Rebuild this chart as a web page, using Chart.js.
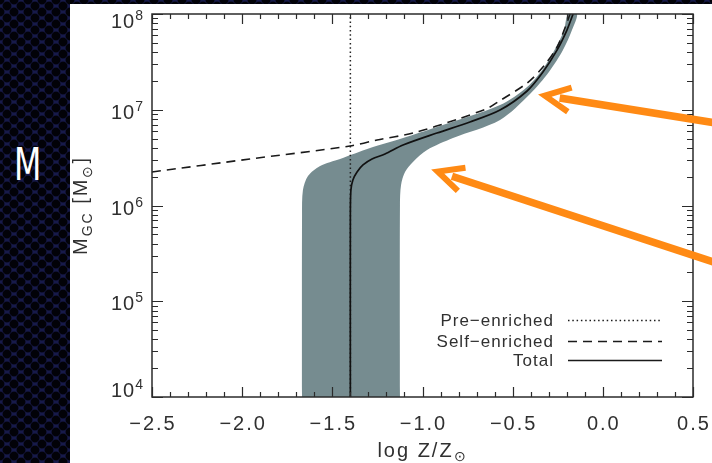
<!DOCTYPE html>
<html><head><meta charset="utf-8">
<script src="https://cdn.jsdelivr.net/npm/chart.js@4.4.0/dist/chart.umd.min.js"></script>
<style>
html,body{margin:0;padding:0;width:712px;height:463px;overflow:hidden;}
body{background-color:#171a4a;
background-image:radial-gradient(circle at 50% 50%, #020208 0, #020208 3.8px, rgba(2,2,8,0) 5px),
radial-gradient(circle at 50% 50%, #020208 0, #020208 3.8px, rgba(2,2,8,0) 5px);
background-size:14px 12px;background-position:0 0,7px 6px;}
#panel{position:absolute;left:70px;top:4px;width:642px;height:459px;background:#fff;}
#mlabel{position:absolute;left:14px;top:143px;color:#fff;font:44px "DejaVu Sans";line-height:44px;transform:scaleX(0.72);transform-origin:left top;}
</style></head>
<body>
<div id="mlabel">M</div>
<div id="panel"><canvas id="c" width="642" height="459"></canvas></div>
<script>
// ---- data ----
const xTickValues = [-2.5, -2.0, -1.5, -1.0, -0.5, 0.0, 0.5];
const yDecadeExponents = [4, 5, 6, 7, 8];

const totalLogZ = [-1.40, -1.40, -1.397, -1.386, -1.363, -1.330, -1.280, -1.208, -1.108, -0.920, -0.737, -0.570, -0.420, -0.332, -0.254, -0.199, -0.165];
const totalMass = [1e4, 7.96e5, 1.45e6, 1.85e6, 2.24e6, 2.65e6, 3.06e6, 3.45e6, 4.28e6, 5.71e6, 7.45e6, 9.93e6, 1.57e7, 2.48e7, 4.2e7, 6.8e7, 1e8];

const selfLogZ = [-2.5, -1.957, -1.402, -1.252, -1.053, -0.803, -0.637, -0.581, -0.420, -0.332, -0.254, -0.210, -0.182];
const selfMass = [2.24e6, 3.06e6, 4.18e6, 4.83e6, 5.71e6, 8.0e6, 1.04e7, 1.21e7, 1.90e7, 2.79e7, 4.52e7, 7.15e7, 1e8];

const preLogZ = [-1.40, -1.40];
const preMass = [1e4, 1e8];

const bandLogZ = [-1.668, -1.668, -1.663, -1.635, -1.568, -1.457, -1.291, -1.108, -0.920, -0.570, -0.420, -0.332, -0.265, -0.215, -0.193,
                  -0.143, -0.171, -0.221, -0.299, -0.404, -0.570, -0.831, -0.975, -1.053, -1.097, -1.119, -1.125, -1.125];
const bandMass = [1e4, 7.96e5, 1.45e6, 2.03e6, 2.59e6, 3.06e6, 3.98e6, 5.07e6, 6.61e6, 1.12e7, 1.73e7, 2.67e7, 4.3e7, 6.8e7, 1e8,
                  1e8, 6.8e7, 4.2e7, 2.48e7, 1.46e7, 7.82e6, 5.07e6, 3.80e6, 2.85e6, 2.24e6, 1.64e6, 1.01e6, 1e4];

const legendLabels = ['Pre\u2212enriched', 'Self\u2212enriched', 'Total'];

const arrowTipLogZ = [-0.349, -0.942];
const arrowTipMass = [1.43e7, 2.35e6];
const arrowTailLogZ = [0.62, 0.62];
const arrowTailMass = [7.3e6, 2.55e5];

const pts = (xs, ys) => xs.map((v, i) => ({x: v, y: ys[i]}));
const FONT = '"Liberation Sans", Arial, Helvetica, sans-serif';
const TEXT = '#303030';

const decor = {
  id: 'decor',
  afterDatasetsDraw(chart) {
    const {ctx, chartArea: a, scales: {x, y}} = chart;
    ctx.save();
    // frame
    ctx.strokeStyle = '#2b2b2b';
    ctx.lineWidth = 1.5;
    ctx.strokeRect(a.left, a.top, a.right - a.left, a.bottom - a.top);
    // ticks
    ctx.lineWidth = 1.2;
    ctx.beginPath();
    const xmin = xTickValues[0], xmax = xTickValues[xTickValues.length - 1];
    const nMinor = Math.round((xmax - xmin) / 0.1);
    for (let i = 0; i <= nMinor; i++) {
      const px = Math.round(x.getPixelForValue(xmin + i * 0.1)) + 0.5;
      const L = (i % 5 === 0) ? 10 : 5;
      ctx.moveTo(px, a.bottom); ctx.lineTo(px, a.bottom - L);
      ctx.moveTo(px, a.top); ctx.lineTo(px, a.top + L);
    }
    const e0 = yDecadeExponents[0], e1 = yDecadeExponents[yDecadeExponents.length - 1];
    for (let e = e0; e <= e1; e++) {
      for (let m = 1; m <= 9; m++) {
        if (e === e1 && m > 1) break;
        const py = Math.round(y.getPixelForValue(m * Math.pow(10, e))) + 0.5;
        const L = m === 1 ? 11 : 6;
        ctx.moveTo(a.left, py); ctx.lineTo(a.left + L, py);
        ctx.moveTo(a.right, py); ctx.lineTo(a.right - L, py);
      }
    }
    ctx.stroke();

    ctx.fillStyle = TEXT;
    ctx.letterSpacing = '2px';
    // x tick labels
    ctx.font = '20px ' + FONT;
    ctx.textAlign = 'center';
    ctx.textBaseline = 'alphabetic';
    xTickValues.forEach(v => {
      const s = v.toFixed(1).replace('-', '\u2212');
      ctx.fillText(s, x.getPixelForValue(v) + 1, a.bottom + 33);
    });
    // y tick labels 10^n
    ctx.textAlign = 'right';
    yDecadeExponents.forEach(e => {
      const py = y.getPixelForValue(Math.pow(10, e));
      const base = Math.min(Math.max(py + 9, a.top + 14), a.bottom);
      ctx.letterSpacing = '0px';
      ctx.font = '14px ' + FONT;
      const sup = String(e);
      const supW = ctx.measureText(sup).width;
      const supRight = a.left - 9;
      ctx.fillText(sup, supRight, base - 8);
      ctx.letterSpacing = '1px';
      ctx.font = '20px ' + FONT;
      ctx.fillText('10', supRight - supW, base);
    });

    const drawParts = (parts, startX, baseY) => {
      let cx = startX;
      parts.forEach(([t, size, dy]) => {
        ctx.font = size + 'px ' + FONT;
        ctx.fillText(t, cx, baseY + dy);
        cx += ctx.measureText(t).width;
      });
    };
    const widthParts = (parts) => parts.reduce((w, [t, size]) => {
      ctx.font = size + 'px ' + FONT; return w + ctx.measureText(t).width;
    }, 0);

    ctx.textAlign = 'left';
    ctx.letterSpacing = '2px';
    // x axis title
    const xParts = [['log Z/Z', 20, 0], ['\u2299', 14, 4]];
    const xw = widthParts(xParts);
    drawParts(xParts, (a.left + a.right) / 2 - xw / 2, a.bottom + 60);
    // y axis title
    const yParts = [['M', 20, 0], ['GC', 14, 5], [' [M', 20, 0], ['\u2299', 14, 5], [']', 20, 0]];
    const yw = widthParts(yParts);
    ctx.save();
    ctx.translate(17, (a.top + a.bottom) / 2);
    ctx.rotate(-Math.PI / 2);
    drawParts(yParts, -yw / 2, 0);
    ctx.restore();

    // legend
    const order = [2, 1, 0]; // dataset indices: Pre, Self, Total
    const offs = [71, 50, 31];
    ctx.letterSpacing = '1px';
    ctx.font = '17px ' + FONT;
    ctx.textAlign = 'right';
    order.forEach((di, r) => {
      const ds = chart.data.datasets[di];
      const by = a.bottom - offs[r];
      ctx.fillStyle = TEXT;
      ctx.fillText(legendLabels[r], a.right - 139, by);
      ctx.save();
      ctx.strokeStyle = '#1a1a1a';
      ctx.lineWidth = 1.4;
      ctx.setLineDash(ds.borderDash || []);
      ctx.beginPath();
      ctx.moveTo(a.right - 125, by - 5.5);
      ctx.lineTo(a.right - 31, by - 5.5);
      ctx.stroke();
      ctx.restore();
    });

    // orange arrows
    ctx.strokeStyle = '#ff8a14';
    ctx.lineCap = 'butt';
    ctx.lineJoin = 'miter';
    arrowTipLogZ.forEach((tz, i) => {
      const tx = x.getPixelForValue(tz), ty = y.getPixelForValue(arrowTipMass[i]);
      const ex = x.getPixelForValue(arrowTailLogZ[i]), ey = y.getPixelForValue(arrowTailMass[i]);
      const ang = Math.atan2(ey - ty, ex - tx);
      const c = Math.cos(ang), s = Math.sin(ang);
      ctx.lineWidth = 7.5;
      ctx.beginPath();
      ctx.moveTo(tx + 20 * c, ty + 20 * s);
      ctx.lineTo(ex + 30 * c, ey + 30 * s);
      ctx.stroke();
      const gx = tx + 5 * c, gy = ty + 5 * s;
      ctx.lineWidth = 6;
      ctx.beginPath();
      ctx.moveTo(gx + 28 * Math.cos(ang - 0.45), gy + 28 * Math.sin(ang - 0.45));
      ctx.lineTo(gx, gy);
      ctx.lineTo(gx + 28 * Math.cos(ang + 0.45), gy + 28 * Math.sin(ang + 0.45));
      ctx.stroke();
    });
    ctx.restore();
  }
};

new Chart(document.getElementById('c').getContext('2d'), {
  type: 'scatter',
  data: {
    datasets: [
      {label: 'Total', data: pts(totalLogZ, totalMass), showLine: true, borderColor: '#111', borderWidth: 1.7,
       pointRadius: 0, tension: 0.3, fill: false, order: 1},
      {label: 'Self-enriched', data: pts(selfLogZ, selfMass), showLine: true, borderColor: '#1a1a1a', borderWidth: 1.6,
       borderDash: [9, 6], pointRadius: 0, tension: 0.3, fill: false, order: 2},
      {label: 'Pre-enriched', data: pts(preLogZ, preMass), showLine: true, borderColor: '#222', borderWidth: 1.5,
       borderDash: [1.5, 2.8], pointRadius: 0, fill: false, order: 3},
      {label: 'range', data: pts(bandLogZ, bandMass), showLine: true, borderWidth: 0, borderColor: 'rgba(0,0,0,0)',
       backgroundColor: '#768c90', fill: 'shape', pointRadius: 0, tension: 0.3, order: 4}
    ]
  },
  options: {
    responsive: false,
    animation: false,
    devicePixelRatio: 1,
    layout: {padding: {left: 82, top: 10, right: 19, bottom: 66}},
    plugins: {legend: {display: false}, tooltip: {enabled: false}},
    scales: {
      x: {type: 'linear', min: -2.5, max: 0.5, display: false},
      y: {type: 'logarithmic', min: 1e4, max: 1e8, display: false}
    }
  },
  plugins: [decor]
});
</script>
</body></html>
